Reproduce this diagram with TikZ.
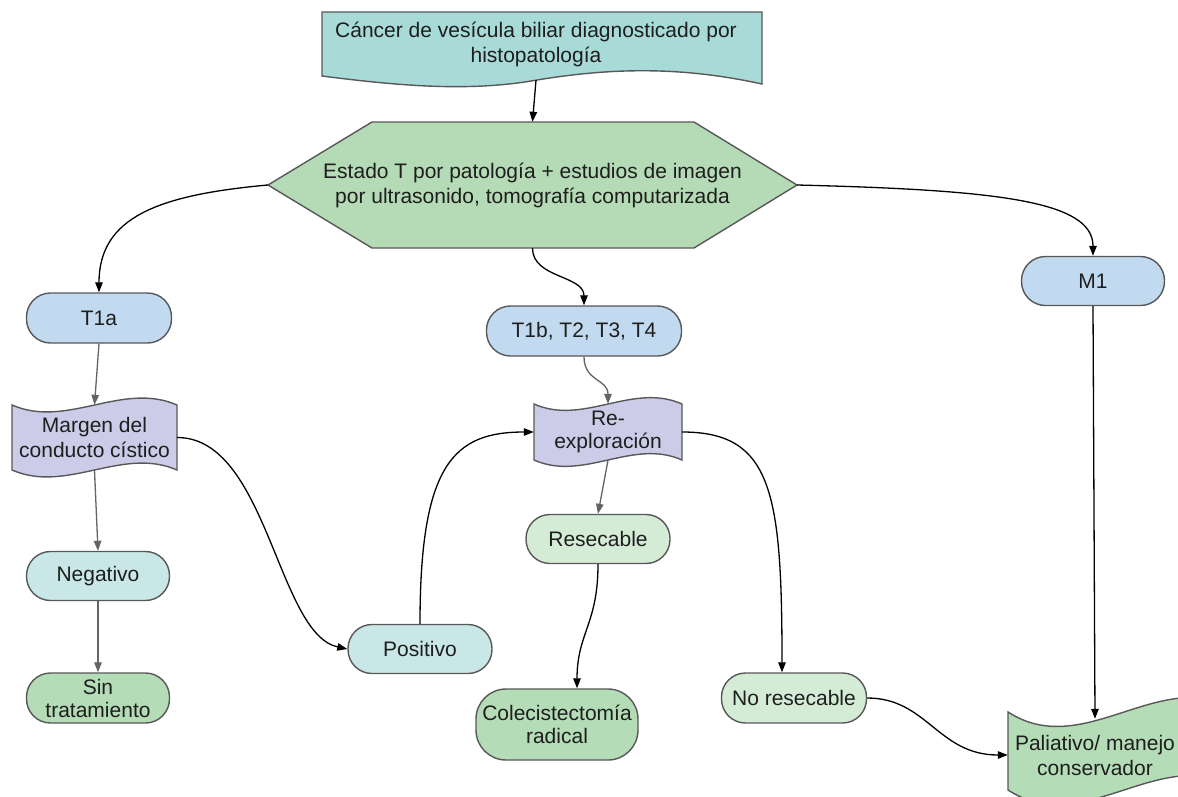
\documentclass[tikz,border=0pt]{standalone}
\usepackage{fontspec}
\setmainfont{Liberation Sans}
\usetikzlibrary{arrows.meta}
\definecolor{txt}{RGB}{30,30,30}
\definecolor{edge}{RGB}{88,88,88}
\definecolor{tealtop}{RGB}{168,219,215}
\definecolor{hexgreen}{RGB}{180,219,181}
\definecolor{blue1}{RGB}{194,218,240}
\definecolor{lav}{RGB}{204,204,232}
\definecolor{lteal}{RGB}{201,231,231}
\definecolor{lgreen}{RGB}{212,236,214}
\definecolor{dgreen}{RGB}{180,220,182}
\definecolor{garrow}{RGB}{100,100,100}
\newcommand{\mytape}[6]{%
  \draw[shapeline,fill=#6] (#1,#3)
    .. controls ({#1+(#2-#1)/3},{#3+#5}) and ({#1+2*(#2-#1)/3},{#3-#5}) .. (#2,#3)
    -- (#2,#4)
    .. controls ({#1+2*(#2-#1)/3},{#4-#5}) and ({#1+(#2-#1)/3},{#4+#5}) .. (#1,#4)
    -- cycle;}
\begin{document}
\begin{tikzpicture}[x=1pt,y=-1pt,
  every node/.style={font=\fontsize{21}{25}\selectfont, text=txt, align=center, inner sep=0pt},
  stadium/.style={draw=edge, line width=1.4pt, rounded corners=24pt, minimum height=50pt, minimum width=145pt},
  holder/.style={draw=none, minimum width=#1},
  shapeline/.style={draw=edge, line width=1.4pt},
  arr/.style={draw=black, line width=1.3pt, -{Triangle[length=10pt,width=7.5pt]}},
  garr/.style={draw=garrow, line width=1.3pt, -{Triangle[length=10pt,width=7.5pt]}}]
\useasboundingbox (0,0) rectangle (1178,796);
\clip (0,0) rectangle (1178,796);
\fill[white] (0,0) rectangle (1178,796);

% shapes drawn directly
\draw[shapeline,fill=tealtop] (322,12) -- (762,12) -- (762,84)
  .. controls (680,66) and (610,68) .. (537,80)
  .. controls (470,92) and (400,86) .. (322,76) -- cycle;
\draw[shapeline,fill=hexgreen] (268,185) -- (372,122) -- (694,122) -- (797,185) -- (694,248) -- (372,248) -- cycle;
\mytape{12}{177}{405}{470}{24}{lav}
\mytape{534}{682}{404}{460}{22}{lav}
\mytape{1008}{1240}{712}{790}{50}{dgreen}

% nodes
\node[holder=440pt, minimum height=72pt] (top) at (536,44) {Cáncer de vesícula biliar diagnosticado por\\histopatología};
\node[holder=529pt, minimum height=126pt] (hex) at (532.5,185) {Estado T por patología + estudios de imagen\\por ultrasonido, tomografía computarizada};
\node[stadium, fill=blue1] (t1a) at (99,318) {T1a};
\node[stadium, fill=blue1, minimum width=195pt] (t1b) at (584,331) {T1b, T2, T3, T4};
\node[stadium, fill=blue1, minimum width=143pt, minimum height=49pt] (m1) at (1093,281) {M1};
\node[holder=165pt, minimum height=65pt] (marg) at (94.5,437.5) {Margen del\\conducto cístico};
\node[holder=148pt, minimum height=56pt, font=\fontsize{21}{23}\selectfont] (rex) at (608,432) {Re-\\exploración};
\node[stadium, fill=lteal, minimum width=143pt, minimum height=49pt] (neg) at (98,576) {Negativo};
\node[stadium, fill=dgreen, minimum width=143pt, font=\fontsize{21}{23}\selectfont] (sin) at (98,698) {Sin\\tratamiento};
\node[stadium, fill=lteal, minimum width=144pt, minimum height=49pt] (pos) at (420,649) {Positivo};
\node[stadium, fill=lgreen, minimum width=144pt, minimum height=49pt] (res) at (598,539) {Resecable};
\node[stadium, fill=dgreen, minimum width=162pt, minimum height=71pt, rounded corners=30pt, font=\fontsize{21}{23}\selectfont] (cole) at (557,724.5) {Colecistectomía\\radical};
\node[stadium, fill=lgreen] (nores) at (794,698) {No resecable};
\node[holder=174pt, minimum height=72pt] (pal) at (1095,755) {Paliativo/ manejo\\conservador};

% connectors
\draw[arr] (top.south) -- (hex.north);
\draw[arr] (hex.west) .. controls +(-110,10) and +(0,-75) .. (t1a.north);
\draw[arr] (hex.east) .. controls +(200,5) and +(0,-55) .. (m1.north);
\draw[arr] (hex.south) .. controls +(0,30) and +(0,-30) .. (t1b.north);
\draw[garr] (t1a.south) -- (marg.north);
\draw[garr] (marg.south) -- (neg.north);
\draw[garr] (neg.south) -- (sin.north);
\draw[arr] (marg.east) .. controls +(90,0) and +(-70,-15) .. (pos.west);
\draw[arr] (pos.north) .. controls +(0,-160) and +(-80,0) .. (rex.west);
\draw[garr] (t1b.south) .. controls +(0,25) and +(0,-25) .. (rex.north);
\draw[garr] (rex.south) -- (res.north);
\draw[arr] (rex.east) .. controls +(90,0) and +(0,-180) .. ([xshift=-12pt]nores.north);
\draw[arr] (res.south) .. controls +(0,60) and +(0,-55) .. ([xshift=20pt]cole.north);
\draw[arr] (nores.east) .. controls +(60,0) and +(-70,0) .. (pal.west);
\draw[arr] (m1.south) -- (pal.north);
\end{tikzpicture}
\end{document}
